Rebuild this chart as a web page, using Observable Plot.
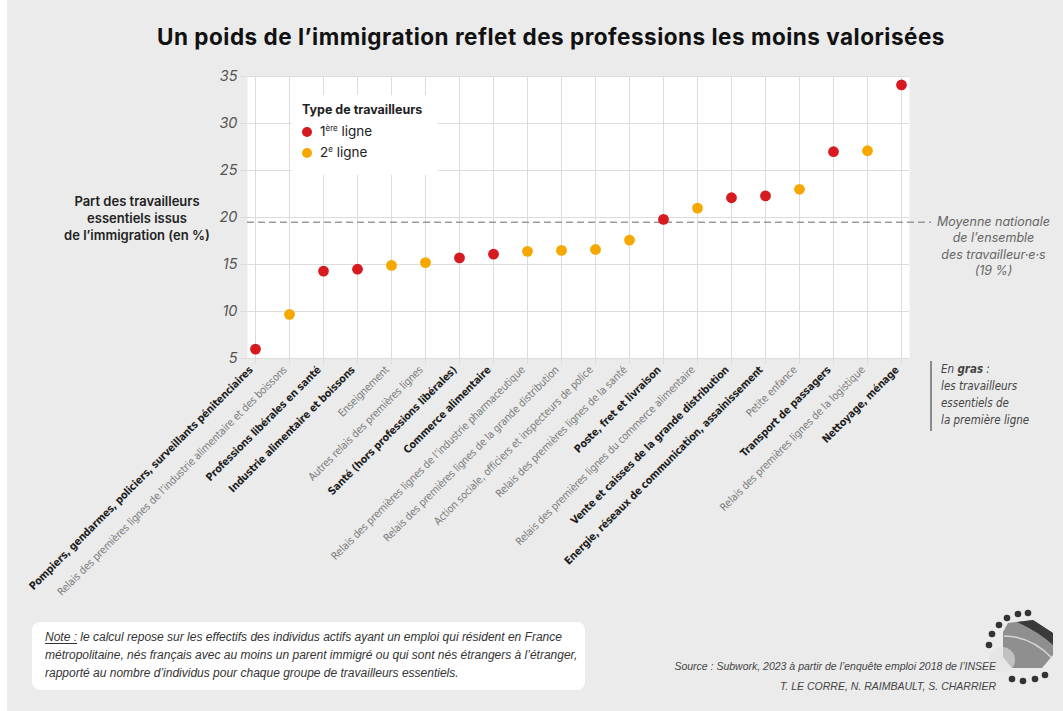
<!DOCTYPE html>
<html><head><meta charset="utf-8">
<script src="https://cdn.jsdelivr.net/npm/d3@7"></script>
<script src="https://cdn.jsdelivr.net/npm/@observablehq/plot@0.6"></script>
<style>
html,body{margin:0;padding:0;background:#fff;width:1063px;height:711px;overflow:hidden;}
#card{position:absolute;left:7px;top:0;width:1056px;height:711px;background:#ebebeb;}
#chart{position:absolute;left:0;top:55px;}
#title{position:absolute;left:23px;width:1056px;top:23px;text-align:center;font:700 22.5px Inter,"Noto Sans",sans-serif;letter-spacing:0.5px;color:#111;line-height:28px;}
#ylabel{position:absolute;left:42px;width:190px;top:193px;text-align:center;font:600 13px Inter,"Noto Sans",sans-serif;color:#222;line-height:17px;}
#legend{position:absolute;left:292px;top:95px;width:146px;height:80px;background:#fff;font-family:Inter,"Noto Sans",sans-serif;color:#222;}
#legend .t{position:absolute;left:10px;top:7px;font-weight:700;font-size:12.5px;}
#legend .it{position:absolute;left:10px;font-size:13.5px;}
#legend .dot{display:inline-block;width:10px;height:10px;border-radius:50%;margin-right:8px;vertical-align:-1px;}
#legend sup{font-size:8px;vertical-align:5px;}
#engras{position:absolute;left:930px;top:361px;height:70px;border-left:2px solid #8a8a8a;padding-left:9px;font:italic 11.5px "Liberation Sans Narrow","DejaVu Sans Condensed",sans-serif;color:#444;line-height:17px;}
#note{position:absolute;left:32px;top:622px;width:540px;height:56px;padding:6px 0 6px 13px;background:#fff;border-radius:8px;font:italic 12px "Liberation Sans","Noto Sans",sans-serif;color:#333;line-height:18px;white-space:nowrap;}
#note u{text-underline-offset:2px;}
#source{position:absolute;right:67px;top:656px;text-align:right;font:italic 10.5px "Liberation Sans","Noto Sans",sans-serif;color:#444;line-height:20px;}
#logo{position:absolute;left:975px;top:600px;}
</style></head><body>
<div id="card"></div>
<div id="title">Un poids de l’immigration reflet des professions les moins valorisées</div>
<div id="chart"></div>
<div id="ylabel">Part des travailleurs<br>essentiels issus<br>de l’immigration (en %)</div>
<div id="legend">
  <div class="t">Type de travailleurs</div>
  <div class="it" style="top:28px"><span class="dot" style="background:#d71920"></span>1<sup>ère</sup> ligne</div>
  <div class="it" style="top:49px"><span class="dot" style="background:#f7a800"></span>2<sup>e</sup> ligne</div>
</div>
<div id="engras">En <b>gras</b> :<br>les travailleurs<br>essentiels de<br>la première ligne</div>
<div id="note"><u>Note :</u> le calcul repose sur les effectifs des individus actifs ayant un emploi qui résident en France<br>métropolitaine, nés français avec au moins un parent immigré ou qui sont nés étrangers à l’étranger,<br>rapporté au nombre d’individus pour chaque groupe de travailleurs essentiels.</div>
<svg id="logo" width="88" height="95" viewBox="0 0 88 95">
  <g fill="#333">
    <circle cx="53" cy="13" r="3.3"/><circle cx="43" cy="14" r="3.3"/><circle cx="32" cy="18" r="3.3"/>
    <circle cx="24" cy="25" r="3.3"/><circle cx="17" cy="34" r="3.3"/><circle cx="14" cy="45" r="3.3"/>
    <circle cx="37" cy="79" r="3.3"/><circle cx="48" cy="81" r="3.3"/><circle cx="60" cy="79" r="3.3"/><circle cx="70" cy="75" r="3.3"/>
  </g>
  <path d="M33 23 L58 20 L78 33 L78 55 L67 68 L37 68 L28 57 L28 32 Z" fill="#8f8f8f"/>
  <path d="M42 22 L58 20 L78 33 L78 45 Q64 32 42 22 Z" fill="#3a3a3a"/>
  <path d="M29 36 Q56 36 77 58" stroke="#d8d8d8" stroke-width="1.5" fill="none"/>
  <circle cx="27" cy="60" r="13" fill="#e2e2e2" opacity="0.6"/>
</svg>
<div id="source">Source : Subwork, 2023 à partir de l’enquête emploi 2018 de l’INSEE<br>T. LE CORRE, N. RAIMBAULT, S. CHARRIER</div>
<script>
const categories = [
  "Pompiers, gendarmes, policiers, surveillants pénitenciaires",
  "Relais des premières lignes de l’industrie alimentaire et des boissons",
  "Professions libérales en santé",
  "Industrie alimentaire et boissons",
  "Enseignement",
  "Autres relais des premières lignes",
  "Santé (hors professions libérales)",
  "Commerce alimentaire",
  "Relais des premières lignes de l’industrie pharmaceutique",
  "Relais des premières lignes de la grande distribution",
  "Action sociale, officiers et inspecteurs de police",
  "Relais des premières lignes de la santé",
  "Poste, fret et livraison",
  "Relais des premières lignes du commerce alimentaire",
  "Vente et caisses de la grande distribution",
  "Energie, réseaux de communication, assainissement",
  "Petite enfance",
  "Transport de passagers",
  "Relais des premières lignes de la logistique",
  "Nettoyage, ménage"
];
const shares = [6.0, 9.7, 14.3, 14.5, 14.9, 15.2, 15.7, 16.1, 16.4, 16.5, 16.6, 17.6, 19.8, 21.0, 22.1, 22.3, 23.0, 27.0, 27.1, 34.1];
const types = ["1ère ligne","2e ligne","1ère ligne","1ère ligne","2e ligne","2e ligne","1ère ligne","1ère ligne","2e ligne","2e ligne","2e ligne","2e ligne","1ère ligne","2e ligne","1ère ligne","1ère ligne","2e ligne","1ère ligne","2e ligne","1ère ligne"];
const typeDomain = ["1ère ligne","2e ligne"];
const typeColors = ["#d71920","#f7a800"];
const yTicks = [5,10,15,20,25,30,35];
const nationalAverage = 19.5;
const averageLabel = "Moyenne nationale\nde l’ensemble\ndes travailleur·e·s\n(19 %)";

const data = categories.map((c,i)=>({cat:c, share:shares[i], type:types[i]}));
const first = data.filter(d=>d.type===typeDomain[0]);
const second = data.filter(d=>d.type!==typeDomain[0]);
const narrow = "'Liberation Sans Narrow','DejaVu Sans Condensed',sans-serif";

const chart = Plot.plot({
  width: 1063, height: 565,
  marginLeft: 247, marginRight: 154, marginTop: 21, marginBottom: 262,
  style: {background: "transparent", overflow: "visible"},
  x: {type: "point", domain: categories, padding: 0, axis: null},
  y: {domain: [5,35], axis: null},
  color: {domain: typeDomain, range: typeColors},
  marks: [
    Plot.frame({fill: "white", stroke: null}),
    Plot.ruleY(yTicks, {stroke: "#dcdcdc", insetLeft: -7}),
    Plot.ruleX(categories, {x: d=>d, stroke: "#dcdcdc", insetBottom: -6}),
    Plot.ruleY([nationalAverage], {stroke: "#9a9a9a", strokeDasharray: "7,4", strokeWidth: 1.6, insetRight: -22}),
    Plot.text(yTicks, {y: d=>d, text: d=>String(d), frameAnchor: "left", dx: -10, textAnchor: "end",
      fontStyle: "italic", fontSize: 14.5, fill: "#555", fontFamily: "Inter,'Noto Sans',sans-serif"}),
    Plot.dot(data, {x: "cat", y: "share", fill: "type", r: 5.4}),
    Plot.text(first, {x: "cat", text: "cat", frameAnchor: "bottom", rotate: -45, textAnchor: "end",
      dx: -2, dy: 12, fontWeight: "bold", fill: "#1e1e1e", fontSize: 10.6, fontFamily: narrow, className: "xl"}),
    Plot.text(second, {x: "cat", text: "cat", frameAnchor: "bottom", rotate: -45, textAnchor: "end",
      dx: -2, dy: 12, fill: "#7a7a7a", fontSize: 10.6, fontFamily: narrow, className: "xl"}),
    Plot.text([nationalAverage], {y: d=>d, text: () => averageLabel, frameAnchor: "right", dx: 84,
      textAnchor: "middle", lineAnchor: "top", dy: -8, lineHeight: 1.32, fontStyle: "italic",
      fontSize: 12.5, fill: "#666", fontFamily: "Inter,'Noto Sans',sans-serif"})
  ]
});
chart.querySelectorAll("g.xl text").forEach(t => t.style.letterSpacing = "-0.15px");
document.getElementById("chart").appendChild(chart);
</script>
</body></html>
